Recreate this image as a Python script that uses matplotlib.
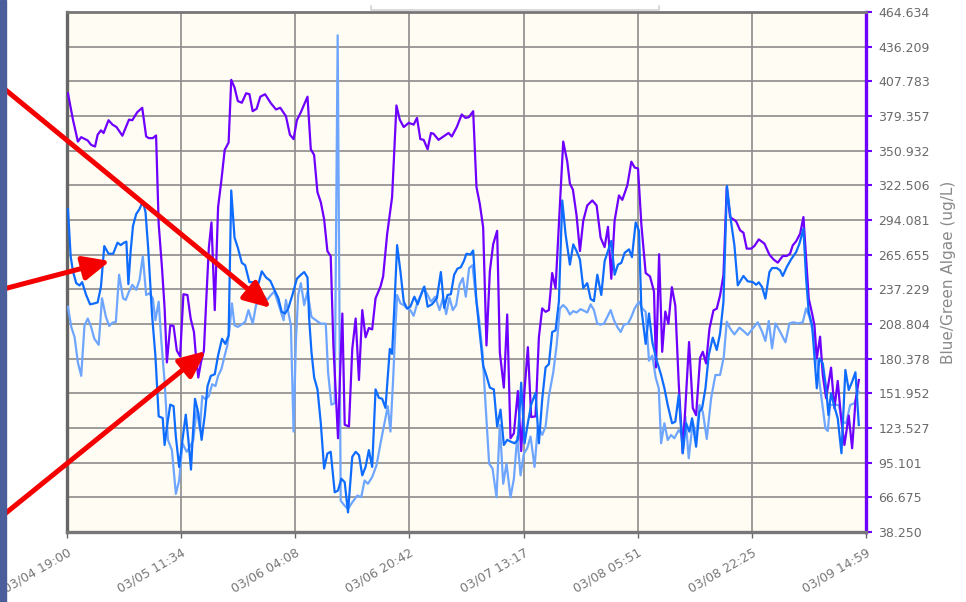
import matplotlib
matplotlib.use("Agg")
import matplotlib.pyplot as plt
from matplotlib.patches import Rectangle

# ---------------- data (hours since 03/04 19:00, ug/L) ----------------
purple_t = [0.14,0.86,1.58,2.06,3.0,3.5,4.07,4.45,4.93,5.31,6.03,6.6,7.18,8.04,9.0,9.48,10.2,10.92,11.49,11.87,
            12.45,12.93,13.31,13.79,14.17,14.5,14.99,15.47,15.94,16.42,16.9,17.48,17.95,18.43,18.67,19.06,19.44,19.87,20.25,20.59,
            20.97,21.45,21.93,22.41,22.89,23.46,23.84,24.32,24.8,25.38,26.0,26.48,26.95,27.53,28.06,28.75,29.61,30.34,30.96,31.78,
            32.36,32.89,33.37,33.95,34.91,35.39,35.87,36.35,36.84,37.32,37.8,38.28,38.67,39.01,39.34,39.63,39.97,40.31,40.93,41.41,
            41.9,42.38,42.86,43.34,43.82,44.3,44.79,45.51,45.89,46.47,47.19,47.53,47.82,48.3,48.88,49.6,50.32,50.81,51.29,51.77,
            52.35,52.83,53.21,53.93,54.66,55.38,55.86,56.58,57.3,57.84,58.33,58.96,59.44,59.92,60.41,60.89,61.38,61.86,62.44,62.83,
            63.41,63.9,64.38,64.87,65.45,65.93,66.42,66.9,67.38,68.01,68.5,68.98,69.47,69.95,70.43,70.92,71.4,72.03,72.62,73.0,
            73.44,73.97,74.46,74.94,75.52,76.25,76.88,77.46,78.04,78.53,79.01,79.49,80.12,80.61,81.34,81.92,82.4,82.89,83.37,84.0,
            84.63,85.21,85.5,85.95,86.4,86.85,87.3,87.8,88.3,88.8,89.38,90.3,90.84,91.32,91.9,92.29,92.77,93.26,93.84,94.32,
            94.8,95.29,95.77,96.25,97.13,97.71,98.19,98.67,99.3,99.79,100.42,101.24,101.96,102.55,103.17,103.9,104.48,104.96,105.35,105.84,
            106.42,106.9,107.29,107.67,108.16,108.5,108.84,109.32,109.71,110.19,110.91,111.4,111.88,112.37,112.85,113.48,113.97,114.45,114.94]
purple_v = [398.0,376.4,358.4,362.0,359.3,355.7,354.3,364.0,367.6,365.4,375.9,372.3,370.3,363.2,376.4,375.9,382.5,386.1,362.6,361.2,
            361.2,363.4,290.7,254.8,221.6,177.3,207.7,207.2,187.0,182.3,233.2,232.6,213.3,202.2,185.6,164.9,177.3,187.0,232.6,271.3,
            292.1,220.2,304.5,326.6,351.5,357.6,409.0,402.7,391.6,390.2,398.0,397.2,383.3,385.3,395.2,397.2,389.7,384.7,386.1,379.2,
            364.0,360.4,375.9,382.5,395.2,352.1,347.4,317.0,308.7,294.9,268.6,264.4,191.2,152.4,115.1,166.3,217.4,126.2,124.8,188.4,
            213.3,162.9,220.2,197.9,205.5,204.4,229.9,239.5,247.8,282.4,312.8,354.3,388.0,376.4,370.3,373.7,372.3,377.8,360.4,359.8,
            352.1,365.4,364.8,359.8,362.6,365.4,362.6,370.3,380.6,377.8,378.4,383.3,321.1,307.3,288.0,191.2,252.0,274.1,285.2,185.6,
            156.6,216.6,115.1,119.2,153.8,104.6,155.2,189.8,132.5,133.1,198.0,221.6,218.8,220.2,250.6,238.2,290.7,358.4,341.9,323.9,
            318.9,297.6,268.6,293.5,306.0,310.1,306.0,279.6,271.9,288.5,245.9,293.5,314.2,310.6,322.5,341.9,337.1,336.3,290.7,250.6,
            247.8,235.4,173.2,266.0,186.0,219.0,209.0,239.0,224.0,160.0,103.0,194.0,140.0,134.0,181.0,186.0,176.5,205.0,220.0,221.4,
            232.3,248.7,321.1,296.5,293.0,285.6,283.7,270.6,270.6,272.8,278.2,274.7,265.7,261.8,259.1,264.6,264.6,266.5,273.3,276.6,
            282.9,296.5,262.4,229.6,217.3,207.7,180.6,198.4,167.0,147.9,173.0,139.7,162.1,131.5,109.6,133.7,106.9,145.2,162.9]

blue_t = [0.14,0.53,0.86,1.34,1.82,2.2,2.78,3.35,3.97,4.45,4.93,5.41,6.03,6.7,7.33,7.8,8.28,8.62,8.91,9.24,
          9.58,10.05,10.53,11.01,11.4,11.78,12.35,12.83,13.31,13.89,14.17,14.51,14.99,15.47,15.8,16.28,16.76,17.24,17.62,18.0,
          18.2,18.58,19.06,19.54,20.01,20.4,20.88,21.45,21.93,22.5,22.98,23.46,23.84,24.32,24.8,25.38,25.86,26.48,27.2,27.82,
          28.27,28.89,29.52,30.1,30.68,31.16,31.64,32.12,32.75,33.37,33.95,34.43,34.91,35.15,35.49,35.88,36.36,36.84,37.32,37.8,
          38.28,38.86,39.34,39.82,40.31,40.79,41.41,41.9,42.38,42.86,43.34,43.82,44.3,44.79,45.27,45.75,46.23,46.86,47.19,47.53,
          47.92,48.4,48.88,49.36,49.84,50.42,50.9,51.39,51.87,52.35,52.97,53.69,54.27,54.75,55.24,55.72,56.2,56.68,57.16,57.6,
          57.99,58.57,58.96,59.44,59.92,60.41,60.89,61.38,61.96,62.44,62.93,63.41,63.9,64.38,64.96,65.45,65.93,66.42,66.9,67.38,
          68.01,68.5,68.98,69.47,69.95,70.43,70.92,71.4,71.89,72.37,73.0,73.49,73.97,74.46,74.94,75.52,76.01,76.49,76.98,77.56,
          78.04,78.53,79.01,79.49,79.98,80.46,80.95,81.58,82.01,82.55,83.03,83.37,84.0,84.48,84.97,85.51,86.24,86.72,87.2,87.83,
          88.3,88.8,89.38,89.87,90.35,90.74,91.32,91.8,92.19,92.68,93.16,93.74,94.32,94.8,95.29,95.8,96.4,96.88,97.37,98.19,
          98.82,99.55,100.03,100.42,100.9,101.38,101.96,102.35,103.03,103.51,103.9,104.48,105.11,105.84,106.32,106.9,107.29,107.67,108.16,108.84,
          109.22,109.71,110.19,110.53,110.91,111.4,111.88,112.42,112.99,113.48,113.97,114.45,114.94]
blue_v = [303.1,264.4,252.0,242.3,240.4,243.1,232.6,224.9,225.7,226.5,239.5,272.7,266.4,266.4,275.5,273.5,275.5,276.3,241.5,268.6,
          289.3,299.0,303.1,309.5,300.4,271.3,216.0,182.9,133.1,131.7,109.6,124.8,142.7,141.4,116.5,91.6,113.8,134.5,113.8,89.4,
          111.0,147.4,136.0,113.8,134.5,157.9,166.3,167.6,182.9,196.7,192.5,199.4,318.3,279.6,271.3,258.9,257.0,243.1,243.1,242.3,
          252.0,247.0,244.2,236.8,229.9,218.8,217.4,221.6,233.2,245.9,249.2,251.4,247.0,213.3,185.6,164.9,155.2,127.6,90.3,102.6,
          104.0,70.8,72.2,81.9,79.1,54.3,99.9,104.0,101.3,84.7,91.6,105.4,91.6,155.2,148.3,147.5,140.0,188.4,184.3,224.3,
          273.5,252.0,227.1,221.6,223.0,231.2,224.9,232.6,239.5,223.0,224.9,229.9,251.4,222.1,232.6,233.2,249.2,254.2,255.3,260.3,
          266.4,265.8,269.1,227.1,200.8,174.6,166.3,156.6,155.2,124.8,138.6,109.6,113.8,112.4,111.0,113.8,160.7,111.0,127.6,142.7,
          152.4,111.0,147.0,173.2,175.9,202.2,203.6,227.1,310.1,282.4,257.5,274.1,268.6,261.7,238.2,242.3,229.3,227.6,249.2,232.6,
          260.3,268.6,276.9,249.2,257.5,258.9,267.2,270.0,263.6,292.1,285.2,221.6,192.5,217.4,193.9,180.6,167.0,156.1,142.4,127.4,
          128.7,150.6,102.8,127.4,120.5,131.5,108.2,136.9,139.7,156.1,183.4,197.6,187.5,201.1,226.8,322.0,292.4,273.3,240.5,248.2,
          243.8,243.2,241.0,243.0,239.1,229.6,251.4,254.7,254.7,252.8,248.2,255.5,261.8,267.8,274.7,287.0,246.0,218.6,207.7,156.1,
          180.6,176.5,156.1,134.2,152.0,141.0,131.5,102.8,171.1,154.7,161.5,169.2,126.0]

light_t = [0.14,0.62,1.1,1.58,2.06,2.54,3.02,3.5,3.97,4.6,5.08,5.65,6.13,6.61,7.09,7.56,8.14,8.52,9.0,9.48,
           10.05,10.53,11.01,11.49,11.97,12.45,12.83,13.31,13.69,14.17,14.65,15.23,15.8,16.28,16.76,17.38,17.86,18.34,18.82,19.3,
           19.63,20.11,20.59,21.07,21.55,21.93,22.41,22.89,23.27,23.6,23.94,24.32,24.8,25.28,25.86,26.34,26.96,27.44,27.91,28.41,
           29.04,29.61,30.1,30.58,31.06,31.44,31.78,32.12,32.5,32.89,33.23,33.56,33.95,34.43,34.91,35.49,36.12,36.84,37.56,37.9,
           38.38,38.86,39.29,39.73,40.31,40.79,41.41,42.14,42.71,43.2,43.68,44.3,44.93,45.51,46.09,46.57,46.95,47.34,47.67,47.92,
           48.4,48.88,49.36,49.84,50.32,50.9,51.39,51.77,52.35,52.83,53.45,54.08,54.56,55.04,55.52,56.0,56.49,56.97,57.45,57.89,
           58.37,58.86,59.34,59.83,60.31,60.8,61.28,61.77,62.35,62.83,63.32,63.8,64.38,64.87,65.35,65.84,66.32,66.8,67.29,67.87,
           68.35,68.98,69.47,69.95,70.58,71.07,71.55,72.03,72.52,73.0,73.49,73.97,74.55,75.13,75.52,76.01,76.49,76.98,77.46,77.95,
           78.43,78.92,79.4,79.88,80.37,80.85,81.43,81.92,82.4,83.03,83.52,84.0,84.48,84.97,85.45,85.9,86.24,86.72,87.2,87.69,
           88.17,88.8,89.29,89.77,90.25,90.84,91.32,91.8,92.29,92.87,93.5,94.12,94.8,95.34,95.77,96.25,96.88,97.61,98.19,98.82,
           99.55,100.27,100.9,101.38,101.87,102.35,102.84,103.51,104.29,104.87,105.45,106.08,106.8,107.29,107.77,108.26,108.74,109.22,109.71,110.09,
           110.43,110.77,111.4,112.03,112.52,113.1,113.68,114.31,114.89]
light_v = [222.9,206.4,198.0,177.3,166.3,207.7,213.3,206.4,196.7,191.7,229.9,214.6,207.2,209.9,210.5,249.2,229.9,228.5,235.4,240.9,
           236.8,245.1,264.4,232.6,234.0,229.9,211.9,227.1,194.9,161.5,113.8,105.4,69.5,80.5,111.0,104.0,108.2,113.8,138.6,122.1,
           149.7,147.0,149.7,159.4,157.9,166.3,171.8,182.9,191.2,204.9,225.7,207.7,206.4,208.3,210.5,220.2,209.1,224.3,228.5,232.6,
           228.5,232.6,235.4,227.1,218.8,211.9,228.5,218.8,207.7,120.6,194.9,232.6,242.3,224.3,235.4,214.6,211.9,209.1,209.1,169.0,
           142.7,143.8,445.5,63.9,59.8,57.1,62.6,68.1,66.8,80.5,77.8,83.3,93.0,111.0,127.6,141.4,120.6,163.5,205.0,232.6,
           225.7,224.3,221.6,220.2,215.5,227.1,233.2,238.7,232.6,227.1,231.2,220.2,229.9,216.9,230.5,220.2,224.3,240.9,246.5,231.2,
           254.7,257.0,231.2,211.9,185.6,138.6,94.3,90.3,66.7,126.2,77.8,94.3,66.7,81.9,116.5,84.7,102.6,106.8,116.5,91.6,
           124.8,117.9,124.8,149.7,169.0,191.2,221.6,224.3,221.6,216.6,219.4,218.2,221.0,219.4,218.2,224.9,220.2,209.1,208.3,209.1,
           214.6,220.2,211.9,206.4,202.2,208.3,209.1,214.6,221.6,227.1,221.6,218.8,178.7,182.9,165.0,156.1,111.0,127.4,113.7,117.8,
           115.1,121.9,117.8,132.8,98.7,128.7,115.1,142.4,136.9,114.5,147.9,167.0,167.0,182.0,210.7,205.2,200.3,205.8,203.1,199.8,
           205.2,210.2,202.5,194.9,211.3,188.8,209.3,202.5,193.8,209.3,210.2,209.3,210.2,221.6,214.8,202.5,186.1,161.5,139.7,123.3,
           121.1,142.4,142.4,142.4,128.7,127.4,142.4,143.8,153.3]

x_labels = ["03/04 19:00", "03/05 11:34", "03/06 04:08", "03/06 20:42",
            "03/07 13:17", "03/08 05:51", "03/08 22:25", "03/09 14:59"]
x_span_hours = 115.983
y_labels = ["38.250", "66.675", "95.101", "123.527", "151.952", "180.378", "208.804", "237.229",
            "265.655", "294.081", "322.506", "350.932", "379.357", "407.783", "436.209", "464.634"]
y_label = "Blue/Green Algae (ug/L)"

# ---------------- style ----------------
C_PURPLE = "#6e00ff"
C_BLUE = "#0e6cff"
C_LIGHT = "#6ea6ff"

W, H = 966, 602
fig = plt.figure(figsize=(W / 100, H / 100), dpi=100)
fig.patch.set_facecolor("white")

L, R, T, B = 67, 866, 12, 532
ax = fig.add_axes([L / W, (H - B) / H, (R - L) / W, (B - T) / H])
ax.set_facecolor("#fffcf3")

ax.plot(light_t, light_v, color=C_LIGHT, lw=1.6, zorder=3)
ax.plot(purple_t, purple_v, color=C_PURPLE, lw=1.6, zorder=4)
ax.plot(blue_t, blue_v, color=C_BLUE, lw=1.6, zorder=5)

yvals = [float(s) for s in y_labels]
ax.set_ylim(yvals[0], yvals[-1])
ax.set_xlim(0, x_span_hours)
xt = [i * x_span_hours / (len(x_labels) - 1) for i in range(len(x_labels))]

ax.yaxis.tick_right()
ax.yaxis.set_label_position("right")
ax.set_yticks(yvals)
ax.set_yticklabels(y_labels)
ax.set_xticks(xt)
ax.set_xticklabels(x_labels, rotation=30, ha="right", rotation_mode="anchor")

ax.tick_params(axis="y", right=True, left=False, length=4, width=1.5, color=C_PURPLE,
               labelcolor="#6a6a6a", labelsize=9, pad=5)
ax.tick_params(axis="x", length=4, width=1, color="#666666",
               labelcolor="#777777", labelsize=9, pad=6)
ax.set_ylabel(y_label, color="#8a8a8a", fontsize=11, labelpad=8)

ax.grid(True, color="#8c8c8c", lw=1.2)
ax.set_axisbelow(True)

ax.spines["left"].set_color("#666666")
ax.spines["left"].set_linewidth(2.4)
ax.spines["top"].set_color("#777777")
ax.spines["top"].set_linewidth(2.0)
ax.spines["bottom"].set_color("#777777")
ax.spines["bottom"].set_linewidth(2.4)
ax.spines["right"].set_color(C_PURPLE)
ax.spines["right"].set_linewidth(2.4)

# ---------------- overlay decorations (pixel coordinates) ----------------
ov = fig.add_axes([0, 0, 1, 1], zorder=10)
ov.set_xlim(0, W)
ov.set_ylim(H, 0)
ov.axis("off")
ov.patch.set_alpha(0)

ov.plot([371, 371, 659, 659], [6, 10, 10, 6], color="#d2d2d2", lw=1.2)

arrows = [((-4, 82), (271, 308)), ((-4, 291), (110, 261)), ((-4, 521), (206, 351))]
for start, tip in arrows:
    ov.annotate("", xy=tip, xytext=start,
                arrowprops=dict(arrowstyle="-|>,head_length=1.0,head_width=0.45",
                                mutation_scale=16, lw=3.6, color="#f40000",
                                shrinkA=0, shrinkB=0))

ov.add_patch(Rectangle((0, 0), 5.5, H, color="#4b5e9c", zorder=20))

fig.savefig("out.png", dpi=100)
